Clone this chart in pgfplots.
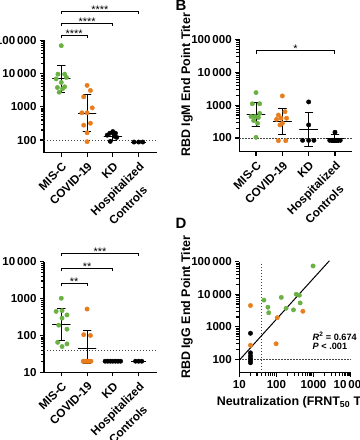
\documentclass[border=0pt]{standalone}
\usepackage{fontspec}
\setmainfont{Liberation Sans}
\usepackage{pgfplots}
\pgfplotsset{compat=1.18}
\definecolor{cg}{RGB}{106,176,67}
\definecolor{co}{RGB}{232,125,30}
\definecolor{cdot}{RGB}{70,70,70}
\newcommand{\xtf}{\fontsize{11.8}{14}\selectfont\bfseries}
\pgfplotsset{
  gp/.style={
    scale only axis, axis lines=left,
    axis line style={-, line width=1.1bp, black},
    tick style={black, line width=1.1bp},
    tick align=outside, major tick length=4bp,
    tick label style={font=\fontsize{11.6}{13}\selectfont\bfseries},
    clip=false,
    ytick={100,1000,10000,100000},
    yticklabels={100,1000,10\,000,100\,000},
  },
  cats/.style={
    xmin=-0.67, xmax=3.7, xtick={0,1,2,3},
    xticklabels={MIS-C,COVID-19,KD,Hospitalized},
    xticklabel style={rotate=45, anchor=north east, font=\xtf},
  },
  gpt/.style={only marks, mark=*, mark size=2.2bp, mark options={draw=#1, fill=#1}},
  eb/.style={black, line width=1bp, line join=round, mark=none},
  dl/.style={cdot, line width=1bp, dash pattern=on 1.2bp off 1.8bp, mark=none},
}
\tikzset{brk/.style={black, line width=1bp},
  stars/.style={anchor=base, inner sep=0pt, yshift=-2bp, font=\fontsize{11}{11}\selectfont},
  ctl/.style={xshift=3.4bp, yshift=-27.4bp, rotate=45, anchor=north east, font=\xtf}}
\begin{document}
\begin{tikzpicture}
\useasboundingbox (0bp,0bp) rectangle (360bp,-440bp);
\clip (0bp,0bp) rectangle (360bp,-440bp);

% ---------------- Panel A ----------------
\begin{axis}[ymode=log, gp, cats, at={(44bp,-152.7bp)}, anchor=south west,
  width=112.7bp, height=112.4bp, ymin=41.6, ymax=100000, minor ytick={}]
\addplot[dl] coordinates {(-0.67,100) (3.7,100)};
\addplot[gpt=cg] coordinates {(0,69000) (-0.13,9600) (0.13,9600) (-0.2,6900) (0.2,7600) (0,5400) (-0.15,3800) (0.13,4000) (0.05,3500) (-0.08,2750)};
\addplot[gpt=co] coordinates {(1,4400) (1.13,3100) (0.87,2000) (1.2,930) (0.8,660) (1,660) (1.13,320) (0.87,280) (1,165) (1,89)};
\addplot[gpt=black] coordinates {(2,180) (1.88,160) (2.1,160) (1.78,140) (2.06,130) (2.15,120) (1.9,91)};
\addplot[gpt=black] coordinates {(2.82,87) (3,87) (3.16,87)};
\addplot[eb] coordinates {(-0.15,17000) (0.15,17000) (0,17000) (0,6900) (-0.34,6900) (0.34,6900) (0,6900) (0,2700) (-0.15,2700) (0.15,2700)};
\addplot[eb] coordinates {(0.85,2270) (1.15,2270) (1,2270) (1,630) (0.66,630) (1.34,630) (1,630) (1,178) (0.85,178) (1.15,178)};
\addplot[eb] coordinates {(1.85,165) (2.15,165) (2,165) (2,125) (1.66,125) (2.34,125) (2,125) (2,100) (1.85,100) (2.15,100)};
\addplot[eb] coordinates {(2.7,87) (3.3,87)};
\draw[brk] (axis cs:0,114600) |- (axis cs:1,141000) -- (axis cs:1,114600);
\node[stars] at (axis cs:0.5,141000) {****};
\draw[brk] (axis cs:0,263400) |- (axis cs:2,324000) -- (axis cs:2,263400);
\node[stars] at (axis cs:1,324000) {****};
\draw[brk] (axis cs:0,618000) |- (axis cs:3,760000) -- (axis cs:3,618000);
\node[stars] at (axis cs:1.5,760000) {****};
\node[ctl] at (axis cs:3,41.6) {Controls};
\end{axis}

% ---------------- Panel B ----------------
\begin{axis}[ymode=log, gp, cats, xmin=-0.635, xmax=3.635, at={(239.3bp,-151.7bp)}, anchor=south west,
  width=112.4bp, height=112.4bp, ymin=38.4, ymax=100000, minor ytick={}]
\addplot[dl] coordinates {(-0.635,100) (3.635,100)};
\addplot[gpt=cg] coordinates {(0,2400) (-0.14,1100) (0.14,1100) (0.14,560) (-0.19,450) (-0.04,450) (0.09,420) (-0.09,340) (0.06,280) (0,105)};
\addplot[gpt=co] coordinates {(1,1900) (0.85,500) (1.1,630) (0.78,370) (0.95,400) (1.16,400) (1,280) (0.91,250) (0.85,83) (1.13,83)};
\addplot[gpt=black] coordinates {(2,1250) (2,250) (1.77,85) (2,85) (2.2,85)};
\addplot[gpt=black] coordinates {(3,150) (2.8,85) (2.93,85) (3.07,85) (3.2,85)};
\addplot[eb] coordinates {(-0.15,1170) (0.15,1170) (0,1170) (0,510) (-0.34,510) (0.34,510) (0,510) (0,220) (-0.15,220) (0.15,220)};
\addplot[eb] coordinates {(0.85,780) (1.15,780) (1,780) (1,320) (0.66,320) (1.34,320) (1,320) (1,130) (0.85,130) (1.15,130)};
\addplot[eb] coordinates {(1.85,590) (2.15,590) (2,590) (2,180) (1.66,180) (2.34,180) (2,180) (2,55) (1.85,55) (2.15,55)};
\addplot[eb] coordinates {(2.85,125) (3.15,125) (3,125) (3,95) (2.66,95) (3.34,95) (3,95) (3,75) (2.85,75) (3.15,75)};
\draw[brk] (axis cs:0,36600) |- (axis cs:3,45000) -- (axis cs:3,36600);
\node[stars] at (axis cs:1.5,45000) {*};
\node[ctl] at (axis cs:3,38.4) {Controls};
\end{axis}

% ---------------- Panel C ----------------
\begin{axis}[ymode=log, gp, cats, at={(44bp,-372.3bp)}, anchor=south west,
  width=112.7bp, height=110.6bp, ymin=10, ymax=10000, minor ytick={},
  ytick={10,100,1000,10000}, yticklabels={10,100,1000,10\,000}]
\addplot[dl] coordinates {(-0.67,40) (3.7,40)};
\addplot[gpt=cg] coordinates {(0,1020) (-0.2,450) (0.03,470) (0.22,360) (0.03,295) (-0.1,190) (0.22,148) (-0.14,65) (0.22,59) (0.03,50)};
\addplot[gpt=co] coordinates {(1,520) (0.87,105) (1.13,100) (0.85,20) (0.9,20) (0.95,20) (1,20) (1.05,20) (1.1,20) (1.15,20)};
\addplot[gpt=black] coordinates {(1.7,20) (1.8,20) (1.9,20) (2,20) (2.1,20) (2.2,20) (2.3,20)};
\addplot[gpt=black] coordinates {(2.88,20) (3,20) (3.12,20)};
\addplot[eb] coordinates {(-0.15,545) (0.15,545) (0,545) (0,195) (-0.34,195) (0.34,195) (0,195) (0,72) (-0.15,72) (0.15,72)};
\addplot[eb] coordinates {(0.85,135) (1.15,135) (1,135) (1,43) (0.66,43) (1.34,43) (1,43) (1,17.5) (0.85,17.5) (1.15,17.5)};
\addplot[eb] coordinates {(1.66,20) (2.34,20)};
\addplot[eb] coordinates {(2.7,20) (3.3,20)};
\draw[brk] (axis cs:0,2148) |- (axis cs:1,2590) -- (axis cs:1,2148);
\node[stars] at (axis cs:0.5,2590) {**};
\draw[brk] (axis cs:0,5490) |- (axis cs:2,6620) -- (axis cs:2,5490);
\node[stars] at (axis cs:1,6620) {**};
\draw[brk] (axis cs:0,14010) |- (axis cs:3,16900) -- (axis cs:3,14010);
\node[stars] at (axis cs:1.5,16900) {***};
\node[ctl] at (axis cs:3,10) {Controls};
\end{axis}

% ---------------- Panel D ----------------
\begin{axis}[ymode=log, xmode=log, gp, at={(239.3bp,-372.7bp)}, anchor=south west,
  width=111.4bp, height=111bp, xmin=10, xmax=10000, ymin=38.7, ymax=100000,
  minor ytick={}, minor xtick={},
  xtick={10,100,1000,10000}, xticklabels={10,100,1000,10\,000}]
\addplot[dl] coordinates {(40,38.7) (40,100000)};
\addplot[dl] coordinates {(10,100) (10000,100)};
\addplot[gpt=cg] coordinates {(970,74000) (46,6600) (59,4000) (62,2700) (135,8000) (182,3700) (288,3300) (340,10000) (415,9300) (435,5400)};
\addplot[gpt=co] coordinates {(20,4500) (105,1900) (515,3000) (98,300) (20,270)};
\addplot[gpt=black] coordinates {(20,630) (20,158) (20,128) (20,107) (20,90) (20,78)};
\addplot[black, line width=1bp, mark=none] coordinates {(10,94) (2670,107000)};
\end{axis}

\node[anchor=base west, inner sep=0pt, font=\fontsize{9.2}{11}\selectfont\bfseries] at (312.5bp,-340.5bp) {\textit{R}\textsuperscript{2} = 0.674};
\node[anchor=base west, inner sep=0pt, font=\fontsize{9.2}{11}\selectfont\bfseries] at (312.5bp,-349.5bp) {\textit{P} < .001};
\node[anchor=base west, font=\fontsize{12.5}{13}\selectfont\bfseries] at (213.3bp,-405.5bp) {Neutralization (FRNT\textsubscript{50} Titer)};
\node[rotate=90, anchor=base, font=\fontsize{12.5}{13}\selectfont\bfseries] at (190bp,-85bp) {RBD IgM End Point Titer};
\node[rotate=90, anchor=base, font=\fontsize{12.5}{13}\selectfont\bfseries] at (190bp,-307.4bp) {RBD IgG End Point Titer};
\node[anchor=base, font=\fontsize{15}{15}\selectfont\bfseries] at (181bp,-10bp) {B};
\node[anchor=base, font=\fontsize{15}{15}\selectfont\bfseries] at (181bp,-228bp) {D};
\end{tikzpicture}
\end{document}
